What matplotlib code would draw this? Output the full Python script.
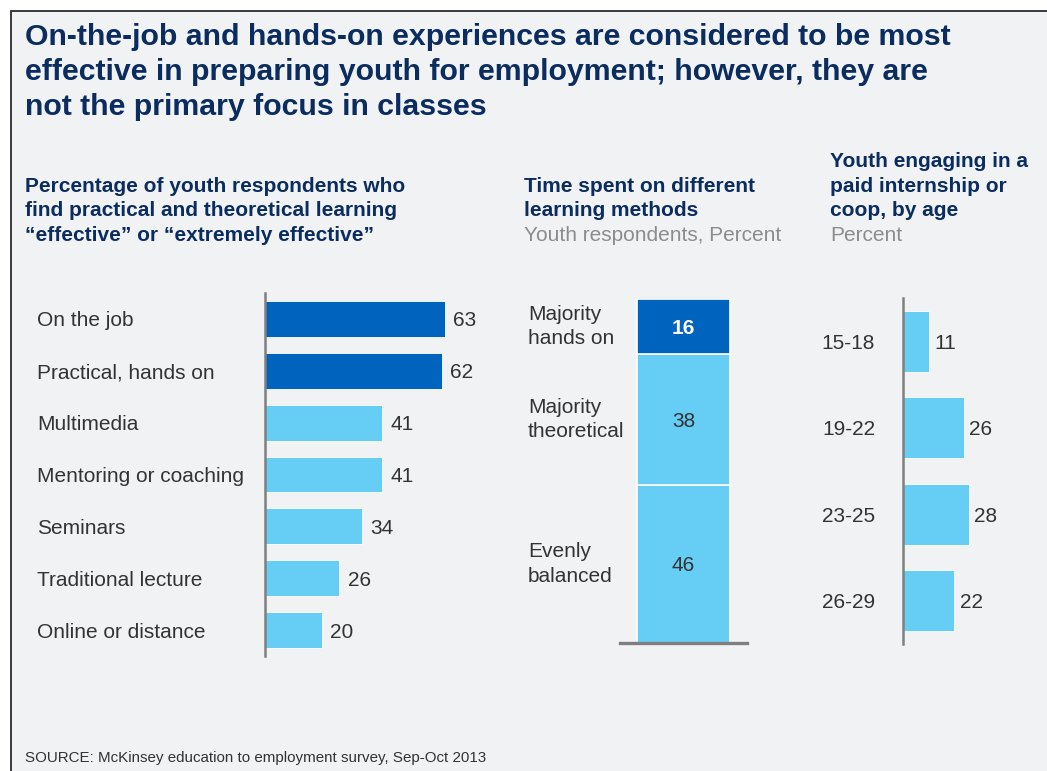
import matplotlib
matplotlib.use("Agg")
import matplotlib.pyplot as plt
from matplotlib.patches import Rectangle
from matplotlib.transforms import blended_transform_factory

plt.rcParams['font.family'] = ['Liberation Sans', 'DejaVu Sans']

# ---------------- data ----------------
title_lines = [
    "On-the-job and hands-on experiences are considered to be most",
    "effective in preparing youth for employment; however, they are",
    "not the primary focus in classes",
]
source_text = "SOURCE: McKinsey education to employment survey, Sep-Oct 2013"

p1_title = ["Percentage of youth respondents who",
            "find practical and theoretical learning",
            "\u201ceffective\u201d or \u201cextremely effective\u201d"]
p1_categories = ["On the job", "Practical, hands on", "Multimedia",
                 "Mentoring or coaching", "Seminars", "Traditional lecture",
                 "Online or distance"]
p1_values = [63, 62, 41, 41, 34, 26, 20]
p1_highlight = [True, True, False, False, False, False, False]

p2_title = ["Time spent on different", "learning methods"]
p2_unit = "Youth respondents, Percent"
p2_categories = ["Evenly\nbalanced", "Majority\ntheoretical", "Majority\nhands on"]
p2_values = [46, 38, 16]
p2_highlight = [False, False, True]

p3_title = ["Youth engaging in a", "paid internship or", "coop, by age"]
p3_unit = "Percent"
p3_categories = ["15-18", "19-22", "23-25", "26-29"]
p3_values = [11, 26, 28, 22]

# ---------------- style ----------------
W, H = 1047, 771
DARK = "#0064BE"
LIGHT = "#66CEF4"
NAVY = "#0A2C5F"
GREY_TXT = "#8C8C8C"
TXT = "#333333"
BG = "#F1F2F4"
AXIS = "#7F7F7F"
FS = 15
BASE_DY = -5.4  # points: puts the baseline so capitals are centred

fig = plt.figure(figsize=(W / 100, H / 100), dpi=100, facecolor="white")

def fx(px):
    return px / W

def fy(py):
    return 1 - py / H

def add_ax(x0, y0, x1, y1):
    return fig.add_axes([fx(x0), fy(y1), fx(x1) - fx(x0), fy(y0) - fy(y1)])

def label(ax, x, y, s, coords, dx=0, ha="left", **kw):
    kw.setdefault("color", TXT)
    kw.setdefault("fontsize", FS)
    ax.annotate(s, (x, y), xycoords=coords, xytext=(dx, BASE_DY),
                textcoords="offset points", ha=ha, va="baseline",
                annotation_clip=False, **kw)

# panel background with border (extends past right/bottom edge)
fig.patches.append(Rectangle((fx(11), fy(H + 40)), 1.2, fy(11) - fy(H + 40),
                             transform=fig.transFigure, facecolor=BG,
                             edgecolor="#2B2B2B", linewidth=1.3, zorder=-5))

# title
for i, line in enumerate(title_lines):
    fig.text(fx(25), fy(45 + 35 * i), line, fontsize=21.8, fontweight="bold",
             color=NAVY, va="baseline", ha="left")

# panel titles
for i, line in enumerate(p1_title):
    fig.text(fx(25), fy(192 + 24.5 * i), line, fontsize=FS, fontweight="bold",
             color=NAVY, va="baseline")
for i, line in enumerate(p2_title):
    fig.text(fx(524), fy(192 + 24.5 * i), line, fontsize=FS, fontweight="bold",
             color=NAVY, va="baseline")
fig.text(fx(524), fy(241), p2_unit, fontsize=FS, color=GREY_TXT, va="baseline")
for i, line in enumerate(p3_title):
    fig.text(fx(830), fy(167 + 24.5 * i), line, fontsize=FS, fontweight="bold",
             color=NAVY, va="baseline")
fig.text(fx(830), fy(241), p3_unit, fontsize=FS, color=GREY_TXT, va="baseline")

def clean(ax):
    ax.set_facecolor("none")
    for s in ax.spines.values():
        s.set_visible(False)
    ax.set_xticks([])
    ax.set_yticks([])

# ---------------- panel 1 ----------------
ax1 = add_ax(265, 293, 465, 656)
clean(ax1)
n1 = len(p1_categories)
ypos = list(range(n1))
ax1.barh(ypos, p1_values, height=0.69,
         color=[DARK if h else LIGHT for h in p1_highlight],
         edgecolor="white", linewidth=0.6)
ax1.set_ylim(n1 - 0.5, -0.5)
ax1.set_xlim(0, 70)
ax1.spines["left"].set_visible(True)
ax1.spines["left"].set_color(AXIS)
ax1.spines["left"].set_linewidth(1.8)
tr1 = blended_transform_factory(fig.transFigure, ax1.transData)
for y, cat, v in zip(ypos, p1_categories, p1_values):
    label(ax1, fx(37), y, cat, tr1)
    label(ax1, v, y, str(v), ax1.transData, dx=6)

# ---------------- panel 2 ----------------
ax2 = add_ax(620, 299, 747, 643)
clean(ax2)
ax2.set_xlim(-0.5, 0.5)
ax2.set_ylim(0, 100)
bottom = 0
tr2 = blended_transform_factory(fig.transFigure, ax2.transData)
for cat, v, h in zip(p2_categories, p2_values, p2_highlight):
    ax2.bar(0, v, bottom=bottom, width=0.732, color=DARK if h else LIGHT,
            edgecolor="white", linewidth=1.2)
    mid = bottom + v / 2
    label(ax2, 0, mid, str(v), ax2.transData, ha="center",
          color="white" if h else TXT, fontweight="bold" if h else "normal")
    ax2.text(fx(528), mid, cat, transform=tr2, fontsize=FS, color=TXT,
             va="center", ha="left", linespacing=1.38)
    bottom += v
ax2.spines["bottom"].set_visible(True)
ax2.spines["bottom"].set_color(AXIS)
ax2.spines["bottom"].set_linewidth(2.4)

# ---------------- panel 3 ----------------
ax3 = add_ax(903, 298, 1020, 644)
clean(ax3)
n3 = len(p3_categories)
ypos3 = list(range(n3))
ax3.barh(ypos3, p3_values, height=0.7, color=LIGHT, edgecolor="white",
         linewidth=0.6)
ax3.set_ylim(n3 - 0.5, -0.5)
ax3.set_xlim(0, 50)
ax3.spines["left"].set_visible(True)
ax3.spines["left"].set_color(AXIS)
ax3.spines["left"].set_linewidth(1.8)
tr3 = blended_transform_factory(fig.transFigure, ax3.transData)
for y, cat, v in zip(ypos3, p3_categories, p3_values):
    label(ax3, fx(875), y, cat, tr3, ha="right")
    label(ax3, v, y, str(v), ax3.transData, dx=4)

# source
fig.text(fx(25), fy(762), source_text, fontsize=10.9, color=TXT,
         va="baseline", ha="left")

fig.savefig("out.png", dpi=100, facecolor="white")
